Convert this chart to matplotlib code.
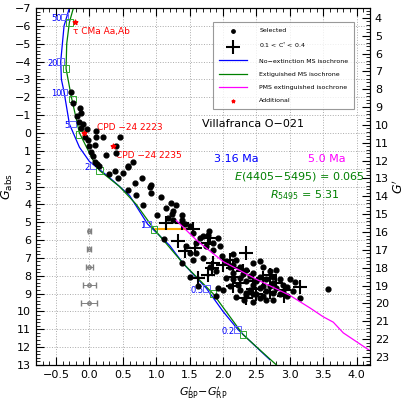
import matplotlib
matplotlib.use("Agg")
import matplotlib.pyplot as plt
from matplotlib.ticker import MultipleLocator
import numpy as np

DM = 10.45  # offset between G_abs and G'

# isochrones
blue_x = [-0.30, -0.38, -0.43, -0.42, -0.38, -0.30, -0.15, 0.0, 0.3, 0.6, 0.87, 1.2, 1.4, 1.65, 1.75, 2.0, 2.22, 2.5, 2.7]
blue_y = [-7.0, -6.0, -4.0, -3.0, -2.3, -0.5, 0.8, 1.6, 2.5, 3.5, 5.1, 6.3, 7.3, 8.3, 8.7, 10.0, 11.0, 12.0, 12.7]
green_x = [-0.24, -0.30, -0.34, -0.35, -0.27, -0.15, 0.05, 0.15, 0.45, 0.7, 0.97, 1.4, 1.85, 2.3, 2.8]
green_y = [-7.0, -6.2, -5.0, -3.6, -2.0, 0.0, 1.5, 2.1, 3.0, 4.0, 5.4, 7.3, 9.0, 11.3, 13.0]
pms_x = [1.3, 1.6, 2.0, 2.5, 3.0, 3.3, 3.5, 3.65, 3.8, 4.0, 4.2]
pms_y = [4.9, 6.0, 7.2, 8.2, 9.1, 9.8, 10.3, 10.6, 11.2, 11.7, 12.2]

# mass markers
mass_labels = ["50", "20", "10", "5", "2", "1", "0.5", "0.2"]
mass_bx = [-0.37, -0.43, -0.38, -0.25, 0.05, 0.87, 1.75, 2.22]
mass_by = [-6.5, -4.0, -2.3, -0.5, 1.85, 5.1, 8.7, 11.0]
mass_gx = [-0.30, -0.35, -0.25, -0.15, 0.15, 0.97, 1.85, 2.30]
mass_gy = [-6.2, -3.6, -1.9, 0.1, 2.1, 5.4, 9.0, 11.3]

dots_x = [-0.27, -0.25, -0.14, -0.18, -0.12, -0.15, -0.1, -0.12, -0.03, -0.07, -0.02, 0.0, 0.02, 0.05, 0.08, 0.12, 0.15,
          0.1, 0.1, 0.2, 0.08, 0.25, 0.45, 0.4, 0.4, 0.65, 0.58, 0.57, 0.5, 0.38, 0.3, 0.43, 0.78, 0.68, 0.92, 0.9, 0.58,
          0.7, 0.92, 1.07,
          0.8, 1.01, 1.22, 1.3, 1.15, 1.25, 1.23, 1.18, 1.25, 1.38, 1.39, 1.12, 1.43, 1.5, 1.55, 1.65, 1.6, 1.7, 1.79,
          1.78, 1.85, 1.93, 1.45, 1.5, 1.75, 1.85, 1.98, 2.05, 2.15, 1.95, 2.15, 2.2, 2.1, 2.25, 2.35, 2.45, 2.55, 2.6,
          2.7, 2.8, 2.45, 2.55, 2.65, 2.75, 2.85, 2.75, 2.9, 3.0, 3.07, 2.95, 3.05, 3.15, 3.57, 2.15, 2.25, 2.35, 2.45,
          2.55, 2.65, 2.75, 2.85, 2.45, 2.55, 2.65, 2.35, 2.25, 2.1, 2.0, 2.32, 2.45, 2.75, 2.95, 1.38, 1.63, 1.9, 1.93,
          1.5, 2.15, 2.22, 2.05, 1.9, 1.8, 1.7, 1.6, 1.55, 2.3, 2.4, 2.5, 2.6, 2.7, 2.35, 2.5, 2.6, 2.2, 2.4, 2.9, 2.8]
dots_y = [-2.3, -1.7, -1.4, -0.95, -1.1, -0.6, -0.5, -0.25, -0.2, 0.2, 0.4, 0.75, 1.05, 1.3, 1.65, 1.75, 1.85,
          -0.1, 0.25, 0.2, 0.65, 1.25, 0.2, 0.75, 1.1, 1.65, 1.9, 1.85, 2.25, 2.15, 2.3, 2.5, 2.5, 2.8, 2.9, 3.0, 3.2,
          3.45, 3.35, 3.6,
          4.05, 4.6, 3.95, 4.05, 4.2, 4.4, 4.55, 4.75, 4.9, 4.57, 4.85, 5.95, 5.1, 5.2, 5.6, 5.9, 6.15, 5.8, 5.5,
          5.7, 6.15, 5.9, 6.35, 6.7, 6.35, 6.55, 6.9, 7.2, 7.4, 6.35, 6.8, 7.1, 7.5, 7.5, 7.65, 7.3, 7.2, 7.5,
          7.75, 7.65, 7.85, 8.05, 8.2, 8.05, 8.2, 8.4, 8.5, 8.2, 8.35, 8.65, 8.85, 9.25, 8.75, 7.85, 8.15, 8.3, 8.5,
          8.7, 8.85, 8.95, 9.05, 9.05, 9.25, 9.35, 8.95, 8.8, 8.6, 8.8, 9.35, 9.45, 9.35, 9.15, 7.3, 8.6, 9.15, 8.7,
          8.05, 8.2, 8.5, 8.1, 7.75, 7.5, 7.0, 6.7, 7.1, 7.9, 8.0, 8.3, 8.6, 8.55, 9.1, 9.0, 9.15, 9.2, 8.8, 8.9, 8.7]

cross_x = [1.15, 1.38, 1.55, 1.8, 1.33, 1.43, 1.58, 1.78, 1.85, 1.83, 1.78, 1.63, 2.35, 2.1, 2.15, 2.15, 2.25, 2.45,
           2.6, 2.7, 2.8, 2.92, 3.15, 2.35, 2.5, 2.7, 2.45, 2.15, 2.3, 2.0, 2.92]
cross_y = [5.05, 5.05, 5.4, 5.9, 6.05, 6.6, 6.45, 6.15, 7.3, 7.55, 7.95, 8.15, 6.7, 7.1, 7.55, 8.05, 8.4, 8.3,
           8.15, 7.95, 8.4, 8.8, 8.65, 9.25, 9.05, 8.9, 8.75, 8.55, 7.75, 7.4, 9.15]

# additional stars
add_x = [-0.22, -0.08, 0.36]
add_y = [-6.2, 0.0, 0.75]
add_names = ["τ CMa Aa,Ab", "CPD −24 2223", "CPD −24 2235"]
add_lx = [-0.25, 0.12, 0.40]
add_ly = [-5.7, -0.3, 1.25]

# error bars
err_y = [5.5, 6.5, 7.5, 8.5, 9.5]
err_x = [0.02, 0.03, 0.05, 0.10, 0.12]

fig = plt.figure(figsize=(4.07, 4.07), dpi=100)
ax = fig.add_axes([36 / 407, 42 / 407, 334 / 407, 357 / 407])

ax.scatter(dots_x, dots_y, s=12, color="black", label="Selected", zorder=5)
ax.scatter(cross_x, cross_y, marker="+", s=110, lw=1.5, color="black", label="0.1 < C$^{*}$ < 0.4", zorder=5)
ax.plot(blue_x, blue_y, color="blue", lw=0.9, label="No−extinction MS isochrone", zorder=3)
ax.plot(green_x, green_y, color="green", lw=0.9, label="Extiguished MS isochrone", zorder=3)
ax.plot(pms_x, pms_y, color="magenta", lw=0.9, label="PMS extinguished isochrone", zorder=6)
ax.plot([1.0, 1.5], [5.4, 5.4], color="orange", lw=1.5, zorder=3)
ax.scatter(add_x, add_y, marker="*", s=12, color="red", label="Additional", zorder=6)

ax.scatter(mass_bx, mass_by, marker="s", s=22, facecolor="none", edgecolor="#6666ff", lw=0.7, zorder=4)
ax.scatter(mass_gx, mass_gy, marker="s", s=22, facecolor="none", edgecolor="#33aa33", lw=0.7, zorder=4)
for lab, x, y in zip(mass_labels, mass_bx, mass_by):
    ax.text(x - 0.04, y + 0.1, lab, color="blue", fontsize=6, ha="right", va="center")

for name, x, y in zip(add_names, add_lx, add_ly):
    ax.text(x, y, name, color="red", fontsize=6.5, va="center")

ax.errorbar([0] * len(err_y), err_y, xerr=err_x, fmt="o", ms=2.5, mfc="none", color="gray",
            lw=0.7, capsize=2, zorder=4)

ax.set_xlim(-0.8, 4.2)
ax.set_ylim(13, -7)
ax.xaxis.set_major_locator(MultipleLocator(0.5))
ax.xaxis.set_minor_locator(MultipleLocator(0.1))
ax.yaxis.set_major_locator(MultipleLocator(1))
ax.yaxis.set_minor_locator(MultipleLocator(0.2))
ax.tick_params(which="both", direction="in", top=True, labelsize=8)
ax.tick_params(which="major", length=6)
ax.tick_params(which="minor", length=3)
ax.grid(True, which="major", ls=":", color="#aaaaaa", lw=0.7)
ax.set_xlabel("$G^{\\prime}_{\\rm BP}$−$G^{\\prime}_{\\rm RP}$", fontsize=8)
ax.set_ylabel("$G_{\\rm abs}$", fontsize=9, labelpad=0)

ax2 = ax.twinx()
ax2.set_ylim(13 + DM, -7 + DM)
ax2.yaxis.set_major_locator(MultipleLocator(1))
ax2.yaxis.set_minor_locator(MultipleLocator(0.2))
ax2.tick_params(which="both", direction="in", labelsize=8)
ax2.tick_params(which="major", length=6)
ax2.tick_params(which="minor", length=3)
ax2.set_ylabel("$G^{\\prime}$", fontsize=9, labelpad=2)

leg = ax.legend(loc="upper left", bbox_to_anchor=(0.53, 0.96), fontsize=4.5, frameon=True, fancybox=False,
                edgecolor="gray", labelspacing=1.25, borderpad=0.9, handlelength=4.5, handletextpad=2.0,
                borderaxespad=0)
leg.get_frame().set_linewidth(0.8)
for h in leg.legend_handles[:1]:
    h.set_sizes([6])
leg.legend_handles[-1].set_sizes([5])

ax.text(2.45, -0.5, "Villafranca O−021", fontsize=8, ha="center", va="center")
ax.text(2.2, 1.45, "3.16 Ma", fontsize=8, color="blue", ha="center", va="center")
ax.text(3.55, 1.45, "5.0 Ma", fontsize=8, color="magenta", ha="center", va="center")
ax.text(4.12, 2.45, "$E$(4405−5495) = 0.065", fontsize=8, color="green", ha="right", va="center")
ax.text(3.75, 3.5, "$R_{5495}$ = 5.31", fontsize=8, color="green", ha="right", va="center")

fig.savefig("out.png", dpi=100)
